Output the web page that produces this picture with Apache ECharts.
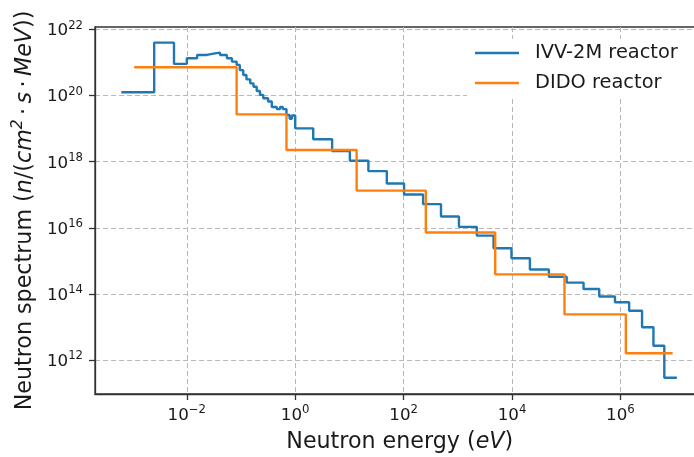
<!DOCTYPE html>
<html>
<head>
<meta charset="utf-8">
<script src="https://cdn.jsdelivr.net/npm/echarts@6/dist/echarts.min.js"></script>
<style>
  html, body { margin: 0; padding: 0; background: #ffffff; }
  #chart { width: 694px; height: 457px; }
</style>
</head>
<body>
<div id="chart"></div>
<script>
// IVV-2M reactor: bin edges (eV), last entry is the upper edge of the final bin
const ivvEnergy = [
  6.2e-4, 2.5e-3, 5.8e-3, 1.0e-2, 1.55e-2, 2.35e-2, 3.3e-2, 4.1e-2, 5.5e-2, 6.8e-2,
  8.3e-2, 9.5e-2, 0.11, 0.126, 0.148, 0.17, 0.195, 0.224, 0.257, 0.316,
  0.37, 0.457, 0.525, 0.59, 0.69, 0.79, 0.87, 1.0, 2.15, 4.8,
  10.2, 22.4, 49, 102, 229, 490, 1050, 2240, 4570, 9770,
  2.14e4, 4.79e4, 1.02e5, 2.09e5, 4.07e5, 7.94e5, 1.45e6, 2.51e6, 4.07e6, 6.46e6,
  1.1e7
];
// IVV-2M reactor: spectrum per bin, n/(cm^2 s MeV)
const ivvFlux = [
  1.26e20, 4.0e21, 9.1e20, 1.35e21, 1.7e21, 1.9e21, 2.0e21, 1.7e21, 1.35e21, 1.07e21,
  8.5e20, 5.9e20, 4.2e20, 3.1e20, 2.35e20, 1.86e20, 1.38e20, 1.05e20, 8.3e19, 6.6e19,
  4.5e19, 3.9e19, 4.5e19, 3.9e19, 2.6e19, 2.0e19, 2.5e19, 1.02e19, 4.8e18, 2.1e18,
  1.07e18, 5.2e17, 2.2e17, 1.02e17, 5.2e16, 2.2e16, 1.07e16, 5.8e15, 2.4e15, 1.2e15,
  5.5e14, 3.3e14, 2.2e14, 1.4e14, 8.3e13, 5.6e13, 3.1e13, 9.8e12, 2.7e12, 2.9e11
];
// DIDO reactor: bin edges (eV) and spectrum per bin
const didoEnergy = [1.07e-3, 8.3e-2, 0.69, 13.6, 257, 4.9e3, 9.3e4, 1.26e6, 9.2e6];
const didoFlux = [7.2e20, 2.7e19, 2.26e18, 1.33e17, 7.2e15, 3.9e14, 2.4e13, 1.6e12];

// Decade exponents that carry tick labels
const xTickPowers = [-2, 0, 2, 4, 6];
const yTickPowers = [12, 14, 16, 18, 20, 22];

const seriesNames = ['IVV-2M reactor', 'DIDO reactor'];
const seriesColors = ['#1f77b4', '#ff7f0e'];

const FONT = 'DejaVu Sans';
const TEXT = '#1a1a1a';
const AXIS = '#333333';

// Histogram bins -> points for a post-step line in log10 space
function stepPoints(edges, values) {
  const pts = values.map((v, i) => [Math.log10(edges[i]), Math.log10(v)]);
  pts.push([Math.log10(edges[edges.length - 1]), Math.log10(values[values.length - 1])]);
  return pts;
}

function powerLabel(allowed) {
  return function (v) {
    const p = Math.round(v);
    if (Math.abs(v - p) > 1e-6 || allowed.indexOf(p) < 0) return '';
    const exp = p < 0 ? '\u2212' + Math.abs(p) : String(p);
    return '{b|10}{s|' + exp + '}';
  };
}

const tickRich = {
  b: { fontFamily: FONT, fontSize: 16.7, color: TEXT, lineHeight: 20, verticalAlign: 'bottom' },
  s: { fontFamily: FONT, fontSize: 11.7, color: TEXT, lineHeight: 11, verticalAlign: 'top' }
};

const nameRich = {
  n: { fontFamily: FONT, fontSize: 22.2, color: TEXT, lineHeight: 26, verticalAlign: 'bottom' },
  i: { fontFamily: FONT, fontSize: 22.2, color: TEXT, fontStyle: 'italic', lineHeight: 26, verticalAlign: 'bottom' },
  s: { fontFamily: FONT, fontSize: 15.5, color: TEXT, fontStyle: 'italic', lineHeight: 14, verticalAlign: 'top' }
};

const chart = echarts.init(document.getElementById('chart'), null, { renderer: 'canvas' });

chart.setOption({
  animation: false,
  backgroundColor: '#ffffff',
  grid: {
    left: 95, top: 27, right: -10.4, bottom: 63,
    show: true, borderColor: AXIS, borderWidth: 1.3,
    containLabel: false, outerBoundsMode: 'none'
  },
  legend: {
    orient: 'vertical',
    left: 467, top: 39,
    padding: [4, 14, 6, 8],
    itemGap: 10,
    itemWidth: 44, itemHeight: 2.4,
    icon: 'rect',
    backgroundColor: '#ffffff',
    borderWidth: 0,
    textStyle: { fontFamily: FONT, fontSize: 19.4, color: TEXT, lineHeight: 20, padding: [0, 0, 0, 11] },
    data: seriesNames.map((n, i) => ({ name: n, itemStyle: { color: seriesColors[i] } }))
  },
  xAxis: {
    type: 'value',
    min: -3.694, max: 7.55,
    axisLine: { show: true, onZero: false, lineStyle: { color: AXIS, width: 1.3 } },
    axisTick: { show: true, length: 6, customValues: xTickPowers, lineStyle: { color: AXIS, width: 1.3 } },
    splitLine: { show: true, lineStyle: { color: '#b8b8b8', width: 1, type: [5, 3] } },
    axisLabel: {
      customValues: xTickPowers,
      margin: 10, formatter: powerLabel(xTickPowers), rich: tickRich
    },
    name: '{n|Neutron energy (}{i|eV}{n|)}',
    nameLocation: 'middle', nameGap: 33,
    nameTextStyle: { rich: nameRich, fontFamily: FONT, fontSize: 22.2, color: TEXT }
  },
  yAxis: {
    type: 'value',
    min: 10.971, max: 22.076,
    axisLine: { show: true, onZero: false, lineStyle: { color: AXIS, width: 1.3 } },
    axisTick: { show: true, length: 6, customValues: yTickPowers, lineStyle: { color: AXIS, width: 1.3 } },
    splitLine: { show: true, lineStyle: { color: '#b8b8b8', width: 1, type: [5, 3] } },
    axisLabel: {
      customValues: yTickPowers,
      margin: 12, formatter: powerLabel(yTickPowers), rich: tickRich
    },
    name: '{n|Neutron spectrum (}{i|n}{n|/(}{i|cm}{s|2}{n|\u2009\u00b7\u2009}{i|s}{n|\u2009\u00b7\u2009}{i|MeV}{n|))}',
    nameLocation: 'middle', nameGap: 53,
    nameTextStyle: { rich: nameRich, fontFamily: FONT, fontSize: 22.2, color: TEXT }
  },
  series: [
    {
      name: seriesNames[0], type: 'line', step: 'end',
      data: stepPoints(ivvEnergy, ivvFlux),
      symbol: 'none', showSymbol: false,
      lineStyle: { color: seriesColors[0], width: 2.4 },
      itemStyle: { color: seriesColors[0] }
    },
    {
      name: seriesNames[1], type: 'line', step: 'end',
      data: stepPoints(didoEnergy, didoFlux),
      symbol: 'none', showSymbol: false,
      lineStyle: { color: seriesColors[1], width: 2.4 },
      itemStyle: { color: seriesColors[1] }
    }
  ]
});
</script>
</body>
</html>
